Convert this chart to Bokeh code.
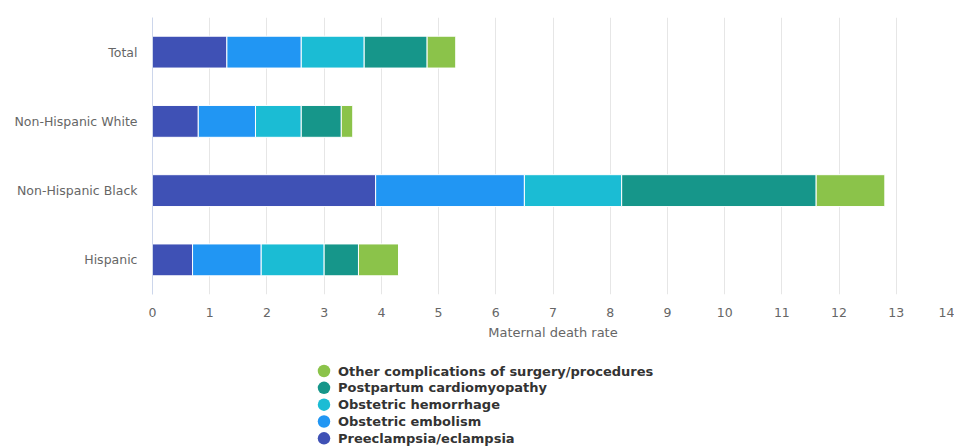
from bokeh.plotting import figure
from bokeh.models import Range1d, FactorRange, SingleIntervalTicker, ColumnDataSource
from bokeh.layouts import column
from bokeh.embed import file_html
from bokeh.resources import INLINE
from bokeh.core.properties import value

# ---- data ----
categories = ["Total", "Non-Hispanic White", "Non-Hispanic Black", "Hispanic"]
series_names = ["Preeclampsia/eclampsia", "Obstetric embolism", "Obstetric hemorrhage",
                "Postpartum cardiomyopathy", "Other complications of surgery/procedures"]
series_colors = ["#3f51b5", "#2196f3", "#1bbcd4", "#16968a", "#8bc34a"]
preeclampsia = [1.3, 0.8, 3.9, 0.7]
embolism = [1.3, 1.0, 2.6, 1.2]
hemorrhage = [1.1, 0.8, 1.7, 1.1]
cardiomyopathy = [1.1, 0.7, 3.4, 0.6]
other = [0.5, 0.2, 1.2, 0.7]
x_title = "Maternal death rate"

FONT = "DejaVu Sans"
keys = ["pre", "emb", "hem", "car", "oth"]
source = ColumnDataSource(dict(cat=categories, pre=preeclampsia, emb=embolism,
                               hem=hemorrhage, car=cardiomyopathy, oth=other))

W = 954
LEFT = 152
RIGHT = 1
p = figure(width=W, height=356, output_backend="svg", toolbar_location=None,
           y_range=FactorRange(*list(reversed(categories)), range_padding=0),
           x_range=Range1d(0, 14),
           min_border_left=LEFT, min_border_right=RIGHT, min_border_top=17, min_border_bottom=62)
p.hbar_stack(keys, y="cat", height=0.46, color=series_colors, source=source,
             line_color="white", line_width=1)

p.outline_line_color = None
p.ygrid.grid_line_color = None
p.xgrid.grid_line_color = "#e6e6e6"
p.xaxis.ticker = SingleIntervalTicker(interval=1)
p.xaxis.axis_line_color = None
p.xaxis.major_tick_line_color = None
p.xaxis.minor_tick_line_color = None
p.xaxis.major_tick_out = 0
p.xaxis.major_label_standoff = 9
p.xaxis.major_label_text_font = FONT
p.xaxis.major_label_text_font_size = "12.5px"
p.xaxis.major_label_text_color = "#666666"
p.xaxis.axis_label = x_title
p.xaxis.axis_label_text_font = FONT
p.xaxis.axis_label_text_font_style = "normal"
p.xaxis.axis_label_text_font_size = "13px"
p.xaxis.axis_label_text_color = "#666666"
p.xaxis.axis_label_standoff = 5

p.yaxis.axis_line_color = "#ccd6eb"
p.yaxis.major_tick_line_color = None
p.yaxis.minor_tick_line_color = None
p.yaxis.major_tick_out = 0
p.yaxis.major_label_standoff = 15
p.yaxis.major_label_text_font = FONT
p.yaxis.major_label_text_font_size = "12.5px"
p.yaxis.major_label_text_color = "#666666"

# ---- legend (separate strip, frame aligned with main frame) ----
leg_names = list(reversed(series_names))
leg_colors = list(reversed(series_colors))
n = len(leg_names)
lsrc = ColumnDataSource(dict(x=[0] * n, y=list(range(n)), name=leg_names, color=leg_colors))
row_h = 16.83
first = 14.5
LH = 91
cx = 323.5 - LEFT          # circle centre, px from frame left
fw = W - LEFT - RIGHT      # frame width in px
lg = figure(width=W, height=LH, output_backend="svg", toolbar_location=None,
            x_range=Range1d(-cx, fw - cx),
            y_range=Range1d((LH - first) / row_h, -first / row_h),
            min_border_left=LEFT, min_border_right=RIGHT, min_border_top=0, min_border_bottom=0)
lg.axis.visible = False
lg.grid.visible = False
lg.outline_line_color = None
lg.scatter(x="x", y="y", size=12.5, marker="circle", color="color", line_color=None, source=lsrc)
lg.text(x="x", y="y", text="name", x_offset=14, source=lsrc,
        text_font=value(FONT), text_font_size="13px", text_font_style="bold",
        text_color="#333333", text_baseline="middle", text_align="left")

layout = column(p, lg, spacing=0)
open("out.html", "w").write(file_html(layout, INLINE))
